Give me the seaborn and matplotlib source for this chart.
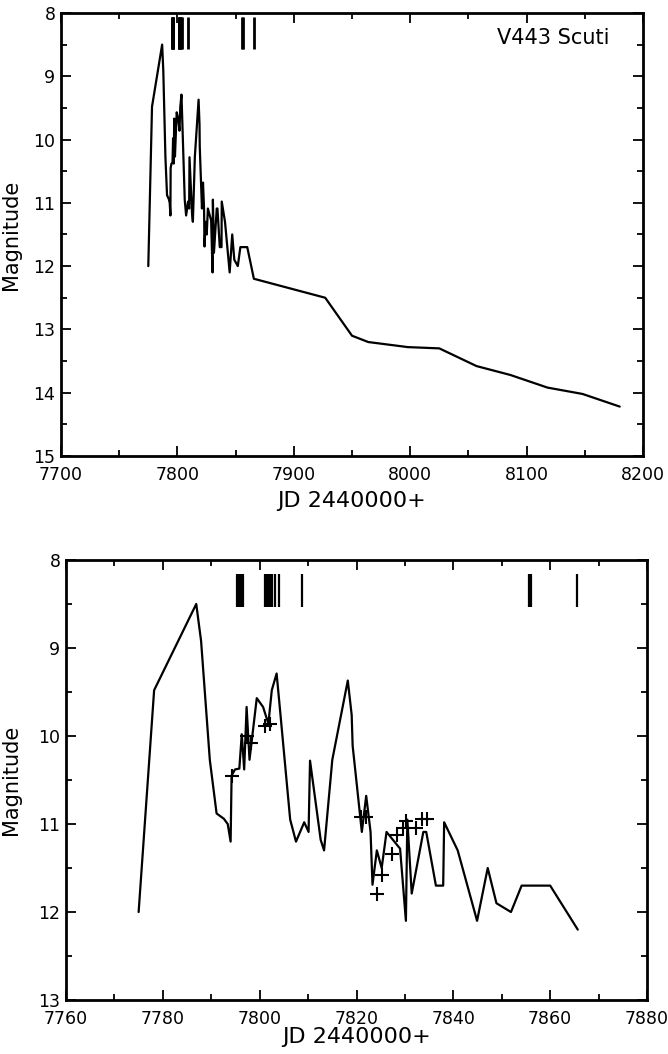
import numpy as np
import pandas as pd
import matplotlib
matplotlib.use("Agg")
import matplotlib.pyplot as plt
from matplotlib.ticker import MultipleLocator
import seaborn as sns

# ==========================================
# Light curve data (JD - 2440000, visual magnitude)
# ==========================================

jd = [7775.0, 7778.2, 7786.9, 7787.9, 7789.7, 7791.1, 7792.6, 7793.4, 7794.0,
      7794.2, 7794.9, 7795.8, 7796.3, 7796.8, 7797.3, 7797.9, 7799.4, 7800.7,
      7801.8, 7802.5, 7803.5, 7804.3, 7806.3, 7807.5, 7809.2, 7810.1, 7810.4,
      7812.6, 7813.3, 7815.0, 7818.2, 7819.0, 7819.2, 7821.1, 7822.0, 7822.9,
      7823.3, 7824.2, 7825.2, 7826.2, 7829.0, 7830.2, 7830.5, 7831.4, 7833.8,
      7834.4, 7836.4, 7837.9, 7838.1, 7840.9, 7844.9, 7847.1, 7848.9, 7851.9,
      7854.1, 7860.0, 7865.7, 7927.0, 7950.0, 7964.0, 7998.0, 8025.0, 8057.0,
      8086.0, 8118.0, 8148.0, 8180.0]
mag = [12.00, 9.48, 8.50, 8.92, 10.27, 10.88, 10.94, 11.00, 11.20,
       10.45, 10.38, 10.37, 9.98, 10.38, 9.67, 10.27, 9.57, 9.67,
       9.86, 9.48, 9.29, 9.76, 10.95, 11.20, 10.98, 11.09, 10.28,
       11.18, 11.30, 10.27, 9.37, 9.76, 10.11, 11.09, 10.68, 11.09,
       11.69, 11.30, 11.50, 11.09, 11.28, 12.10, 10.95, 11.79, 11.09,
       11.09, 11.70, 11.70, 10.98, 11.30, 12.10, 11.50, 11.90, 12.00,
       11.70, 11.70, 12.20, 12.50, 13.10, 13.20, 13.28, 13.30, 13.58,
       13.72, 13.92, 14.02, 14.22]

# photoelectric points (crosses)
cross_jd = [7794.2, 7797.3, 7798.2, 7801.2, 7802.1, 7820.9, 7821.9, 7824.3,
            7825.2, 7827.3, 7828.3, 7829.5, 7830.3, 7832.3, 7833.5, 7834.5]
cross_mag = [10.45, 10.00, 10.08, 9.89, 9.86, 10.92, 10.92, 11.79,
             11.58, 11.34, 11.12, 11.05, 10.97, 11.05, 10.94, 10.94]

# dates of spectra (tick bars at the top)
events = [7795.3, 7795.6, 7795.9, 7796.2, 7796.5, 7801.2, 7801.5, 7801.8,
          7802.1, 7802.5, 7803.2, 7804.0, 7808.8, 7855.6, 7856.1, 7865.6]

df = pd.DataFrame({"JD": jd, "Magnitude": mag})
df_cross = pd.DataFrame({"JD": cross_jd, "Magnitude": cross_mag})
# the lower panel only shows the first weeks
df_early = df[df["JD"] < 7870]

# ==========================================
# Figure
# ==========================================

sns.set_style("ticks")
plt.rcParams["font.family"] = ["DejaVu Sans"]
plt.rcParams["text.color"] = "black"
plt.rcParams["axes.labelcolor"] = "black"
plt.rcParams["xtick.color"] = "black"
plt.rcParams["ytick.color"] = "black"

fig = plt.figure(figsize=(6.68, 10.54), dpi=100)
ax1 = fig.add_axes([0.0913, 0.5674, 0.8713, 0.4203])
ax2 = fig.add_axes([0.0988, 0.0512, 0.8698, 0.4175])


def style_axis(ax, xlim, ylim, xmaj, xmin):
    ax.set_xlim(*xlim)
    ax.set_ylim(*ylim)
    ax.xaxis.set_major_locator(MultipleLocator(xmaj))
    ax.xaxis.set_minor_locator(MultipleLocator(xmin))
    ax.yaxis.set_major_locator(MultipleLocator(1))
    ax.yaxis.set_minor_locator(MultipleLocator(0.5))
    ax.tick_params(which="both", direction="in", top=True, right=True,
                   width=1.3, color="black", labelcolor="black")
    ax.tick_params(which="major", length=7, labelsize=12.5)
    ax.tick_params(axis="x", which="major", pad=7)
    ax.tick_params(axis="y", which="major", pad=4)
    ax.tick_params(which="minor", length=4)
    for sp in ax.spines.values():
        sp.set_linewidth(2)
        sp.set_color("black")
    ax.set_xlabel("JD 2440000+", fontsize=16, color="black")
    ax.set_ylabel("Magnitude", fontsize=15, color="black")


# top panel: whole light curve
sns.lineplot(data=df, x="JD", y="Magnitude", sort=False, estimator=None,
             color="black", lw=1.6, ax=ax1)
ax1.vlines(events, 8.06, 8.57, color="black", lw=2)
style_axis(ax1, (7700, 8200), (15, 8), 100, 50)
ax1.text(0.943, 0.944, "V443 Scuti", transform=ax1.transAxes,
         ha="right", va="center", fontsize=15, color="black")
ax1.yaxis.set_label_coords(-0.068, 0.5)
ax1.xaxis.set_label_coords(0.5, -0.078)

# bottom panel: zoom on the maximum
sns.lineplot(data=df_early, x="JD", y="Magnitude", sort=False, estimator=None,
             color="black", lw=1.6, ax=ax2)
sns.scatterplot(data=df_cross, x="JD", y="Magnitude", marker="+", s=90,
                color="black", linewidth=1.5, ax=ax2, zorder=3)
ax2.vlines(events, 8.16, 8.53, color="black", lw=1.6)
style_axis(ax2, (7760, 7880), (13, 8), 20, 10)
ax2.yaxis.set_label_coords(-0.077, 0.5)
ax2.xaxis.set_label_coords(0.5, -0.062)

plt.savefig("out.png", dpi=100)
